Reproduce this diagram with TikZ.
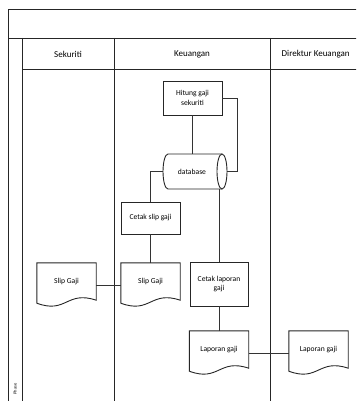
\documentclass[tikz,border=0pt]{standalone}
\usepackage{fontspec}
\setmainfont{Carlito}
\newcommand{\docpath}[1]{%
  \draw[ln] (#1.north west) -- (#1.north east) -- (#1.south east)
    .. controls ([yshift=10pt]#1.south) and ([yshift=-14pt]#1.south) ..
    ([yshift=-3pt]#1.south west) -- cycle;}
\begin{document}
\begin{tikzpicture}[x=1pt,y=-1pt,
  ln/.style={line width=0.9pt, draw=black!85},
  box/.style={draw=black!85, line width=0.9pt, rectangle, inner sep=1pt, align=center, font=\fontsize{7.6}{9.5}\selectfont},
  doc/.style={rectangle, inner sep=1pt, align=center, minimum width=59, minimum height=37, font=\fontsize{7.6}{9.5}\selectfont},
  hdr/.style={font=\fontsize{9}{11}\selectfont, inner sep=0pt},
  conn/.style={line width=0.9pt, draw=black!80}]
\useasboundingbox (0,0) rectangle (356,401);
\clip (0,0) rectangle (356,401);
\fill[white] (0,0) rectangle (356,401);

% frame
\draw[ln] (360,9) -- (8,9) -- (8,405);
\draw[ln] (8,38) -- (360,38);
\draw[ln] (22,69) -- (360,69);
\draw[ln] (22,38) -- (22,405);
\draw[ln] (114,38) -- (114,405);
\draw[ln] (270,38) -- (270,405);

% headers
\node[hdr] (h1) at (68,54) {Sekuriti};
\node[hdr] (h2) at (192,54) {Keuangan};
\node[hdr, anchor=west] (h3) at (281.5,54) {Direktur Keuangan};
\node[rotate=90, font=\fontsize{4.5}{5}\selectfont, inner sep=0pt] (ph) at (15,389) {Phase};

% process boxes
\node[box, minimum width=59, minimum height=34] (hit) at (192.5,98) {Hitung gaji\\sekuriti};
\node[box, minimum width=59, minimum height=32] (csg) at (150.5,218) {Cetak slip gaji};
\node[box, minimum width=58, minimum height=44] (cl) at (219,284) {Cetak laporan\\gaji};

% database cylinder
\node[rectangle, minimum width=64, minimum height=35, inner sep=0pt, font=\fontsize{7.6}{9.5}\selectfont] (db) at (195,171.5) {\hspace*{-6pt}database};
\draw[ln] (222,154) -- (168,154) arc[start angle=90, end angle=270, x radius=5, y radius=-17.5] -- (222,189);
\draw[ln] (222,171.5) ellipse[x radius=5, y radius=17.5];

% documents
\node[doc] (sg1) at (66.5,281.5) {Slip Gaji};
\node[doc] (sg2) at (150.5,281.5) {Slip Gaji};
\node[doc] (lg1) at (219,349.5) {Laporan gaji};
\node[doc] (lg2) at (318.5,349.5) {Laporan gaji};
\docpath{sg1}
\docpath{sg2}
\docpath{lg1}
\docpath{lg2}

% connectors
\coordinate (rk) at (237,171.5);
\draw[conn] (hit.south) -- (hit.south |- db.north);
\draw[conn] (hit.east) -| (rk) -- (db.east);
\draw[conn] (db.west) -| (csg.north);
\draw[conn] (csg.south) -- (sg2.north);
\draw[conn] ([yshift=-3.5pt]sg1.east) -- ([yshift=-3.5pt]sg2.west);
\draw[conn] (cl.north |- db.south) -- (cl.north);
\draw[conn] (cl.south) -- (lg1.north);
\draw[conn] ([yshift=-3.5pt]lg1.east) -- ([yshift=-3.5pt]lg2.west);
\end{tikzpicture}
\end{document}
